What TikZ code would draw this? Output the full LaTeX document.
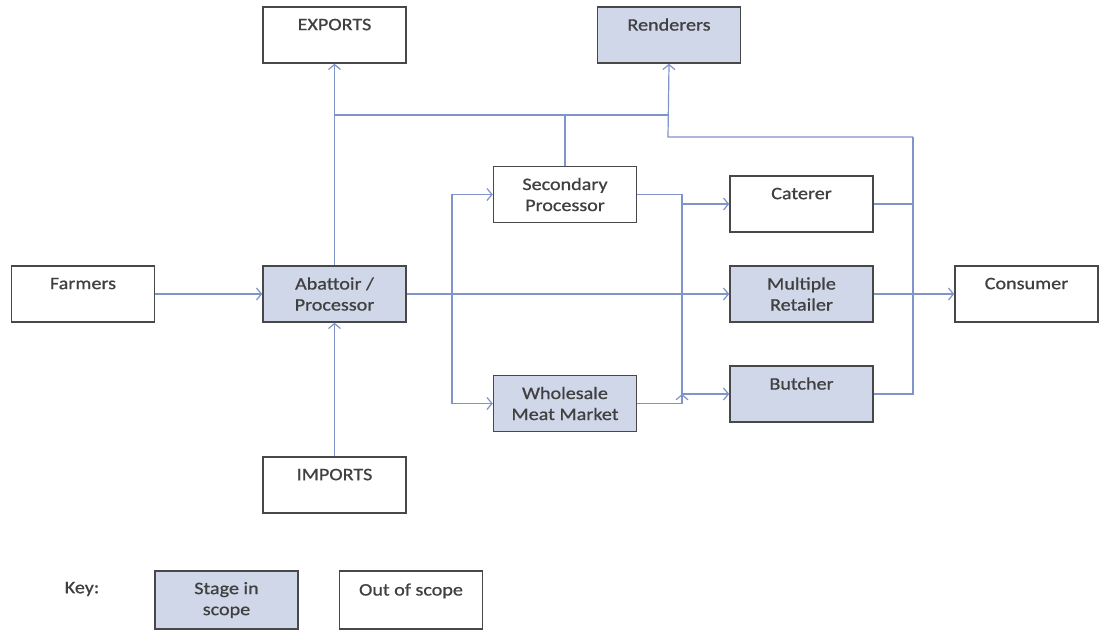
\documentclass[tikz,border=0pt]{standalone}
\usepackage{fontspec}
\setmainfont{Carlito}[FakeStretch=1.15, FakeBold=0.8]
\usepackage{tikz}
\usetikzlibrary{arrows, arrows.meta, calc, positioning}

\definecolor{inscope}{RGB}{207,215,233}
\definecolor{flow}{RGB}{128,148,202}
\definecolor{boxline}{RGB}{72,72,72}
\definecolor{label}{RGB}{64,64,64}

\begin{document}
\begin{tikzpicture}[x=1pt, y=-1pt,
                        stage/.style={draw=boxline, line width=1.5pt, fill=white, text=label,
                            minimum width=143pt, minimum height=56pt, inner sep=2pt,
                            align=center, font=\fontsize{17.5}{21}\selectfont},
                        kept/.style={stage, fill=inscope},
                        upper/.style={text depth=21pt},
                        >={Straight Barb[length=5pt, width=12pt]},
                        link/.style={draw=flow, line width=1.2pt}]
                        \useasboundingbox (0, 0) rectangle (1102, 631);
                        \node[stage, upper] (exports) at (334.5, 35) {EXPORTS};
                        \node[kept, upper] (renderers) at (669, 35) {Renderers};
                        \node[stage, upper] (farmers) at (83, 294) {Farmers};
                        \node[kept] (abattoir) at (334.5, 294) {Abattoir /\\Processor};
                        \node[stage] (secondary) at (565, 194.5) {Secondary\\Processor};
                        \node[kept] (wholesale) at (565, 403.5) {Wholesale\\Meat Market};
                        \node[stage, upper] (caterer) at (801.5, 204) {Caterer};
                        \node[kept] (retailer) at (801.5, 294) {Multiple\\Retailer};
                        \node[kept, upper] (butcher) at (801.5, 394) {Butcher};
                        \node[stage, upper] (consumer) at (1026.5, 294) {Consumer};
                        \node[stage, upper] (imports) at (334.5, 485) {IMPORTS};
                        \node[text=label, font=\fontsize{17.5}{21}\selectfont] (key) at (82, 589) {Key:};
                        \node[kept, minimum height=58pt] (keyin) at (226.5, 600) {Stage in\\scope};
                        \node[stage, upper, minimum height=58pt] (keyout) at (411, 600) {Out of scope};
                        % junction points of the flow lines
                        \coordinate (jl) at (334.5, 115);
                        \coordinate (jr) at (668, 137);
                        \coordinate (jc) at (913, 137);
                        \coordinate (split) at (452, 294);
                        \coordinate (merge) at (682, 294);
                        \draw[link]
                        (jl) -- (jl -| jr)
                        (secondary.north) -- (secondary.north |- jl)
                        (jc) |- (butcher.east)
                        (caterer.east) -- (caterer.east -| jc)
                        (secondary.east) -| (merge |- wholesale.east) -- (wholesale.east);
                        \draw[link, ->] (jc) -- (jr) -- (renderers.south);
                        \draw[link, ->] (split |- secondary.west) |- (wholesale.west);
                        \draw[link, ->] (split |- wholesale.west) |- (secondary.west);
                        \draw[link, ->]
                        (farmers) edge (abattoir)
                        (abattoir) edge (exports)
                        (imports) edge (abattoir)
                        (abattoir) edge (retailer)
                        (retailer) edge (consumer)
                        (merge |- caterer.west) edge (caterer)
                        (merge |- butcher.west) edge (butcher);
                    \end{tikzpicture}
\end{document}
